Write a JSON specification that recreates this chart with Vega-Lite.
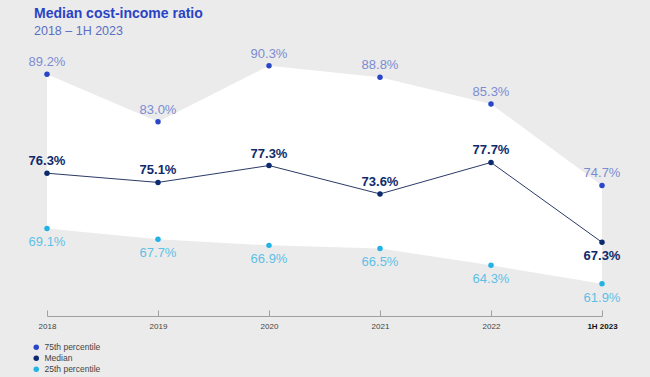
{
  "$schema": "https://vega.github.io/schema/vega-lite/v6.json",
  "width": 555,
  "height": 271,
  "autosize": {"type": "none"},
  "padding": {"left": 47, "top": 45, "right": 48, "bottom": 61},
  "background": "#ebebeb",
  "config": {"view": {"stroke": null}, "font": "Liberation Sans"},
  "title": {
    "text": "Median cost-income ratio",
    "subtitle": "2018 – 1H 2023",
    "anchor": "start",
    "frame": "group",
    "dx": -13,
    "fontSize": 14,
    "fontWeight": "bold",
    "color": "#2a43c4",
    "subtitleFontSize": 12.5,
    "subtitleColor": "#5a6ec4",
    "subtitlePadding": 4,
    "offset": 8
  },
  "data": {
    "values": [
      {"year": "2018", "p75": 89.2, "median": 76.3, "p25": 69.1},
      {"year": "2019", "p75": 83.0, "median": 75.1, "p25": 67.7},
      {"year": "2020", "p75": 90.3, "median": 77.3, "p25": 66.9},
      {"year": "2021", "p75": 88.8, "median": 73.6, "p25": 66.5},
      {"year": "2022", "p75": 85.3, "median": 77.7, "p25": 64.3},
      {"year": "1H 2023", "p75": 74.7, "median": 67.3, "p25": 61.9}
    ]
  },
  "encoding": {
    "x": {
      "field": "year",
      "type": "ordinal",
      "sort": null,
      "scale": {"type": "point", "padding": 0},
      "axis": {
        "title": null,
        "labelAngle": 0,
        "labelFontSize": 8,
        "labelColor": {"condition": {"test": "datum.value == '1H 2023'", "value": "#111111"}, "value": "#444444"},
        "labelFontWeight": {"condition": {"test": "datum.value == '1H 2023'", "value": "bold"}, "value": "normal"},
        "domainColor": "#a0a0a0",
        "tickColor": "#a0a0a0",
        "tickSize": -6,
        "labelPadding": 12,
        "grid": false
      }
    }
  },
  "layer": [
    {
      "mark": {"type": "area", "color": "white", "interpolate": "linear", "opacity": 1},
      "encoding": {
        "y": {"field": "p75", "type": "quantitative", "scale": {"domain": [57.7, 93]}, "axis": null},
        "y2": {"field": "p25"}
      }
    },
    {
      "mark": {"type": "line", "color": "#2b3a67", "strokeWidth": 1},
      "encoding": {
        "y": {"field": "median", "type": "quantitative", "scale": {"domain": [57.7, 93]}, "axis": null}
      }
    },
    {
      "transform": [{"fold": ["p75", "median", "p25"], "as": ["series", "value"]}],
      "mark": {"type": "circle", "size": 30, "opacity": 1},
      "encoding": {
        "y": {"field": "value", "type": "quantitative", "scale": {"domain": [57.7, 93]}, "axis": null},
        "color": {
          "field": "series",
          "type": "nominal",
          "scale": {"domain": ["p75", "median", "p25"], "range": ["#2a46c8", "#0c2a6e", "#22b2e4"]},
          "legend": {
            "title": null,
            "orient": "none",
            "legendX": -15,
            "legendY": 298,
            "direction": "vertical",
            "symbolType": "circle",
            "symbolSize": 30,
            "labelFontSize": 8.5,
            "labelColor": "#444444",
            "rowPadding": 2,
            "labelExpr": "datum.label == 'p75' ? '75th percentile' : datum.label == 'median' ? 'Median' : '25th percentile'"
          }
        }
      }
    },
    {
      "transform": [{"calculate": "format(datum.p75, '.1f') + '%'", "as": "lab"}],
      "mark": {"type": "text", "dy": -12, "fontSize": 13, "color": "#7b8bd2"},
      "encoding": {
        "y": {"field": "p75", "type": "quantitative", "scale": {"domain": [57.7, 93]}, "axis": null},
        "text": {"field": "lab"}
      }
    },
    {
      "transform": [{"filter": "datum.year != '1H 2023'"}, {"calculate": "format(datum.median, '.1f') + '%'", "as": "lab"}],
      "mark": {"type": "text", "dy": -12, "fontSize": 13, "fontWeight": "bold", "color": "#0f2a6b"},
      "encoding": {
        "y": {"field": "median", "type": "quantitative", "scale": {"domain": [57.7, 93]}, "axis": null},
        "text": {"field": "lab"}
      }
    },
    {
      "transform": [{"filter": "datum.year == '1H 2023'"}, {"calculate": "format(datum.median, '.1f') + '%'", "as": "lab"}],
      "mark": {"type": "text", "dy": 14, "fontSize": 13, "fontWeight": "bold", "color": "#0f2a6b"},
      "encoding": {
        "y": {"field": "median", "type": "quantitative", "scale": {"domain": [57.7, 93]}, "axis": null},
        "text": {"field": "lab"}
      }
    },
    {
      "transform": [{"calculate": "format(datum.p25, '.1f') + '%'", "as": "lab"}],
      "mark": {"type": "text", "dy": 14, "fontSize": 13, "color": "#5fc0e6"},
      "encoding": {
        "y": {"field": "p25", "type": "quantitative", "scale": {"domain": [57.7, 93]}, "axis": null},
        "text": {"field": "lab"}
      }
    }
  ]
}
